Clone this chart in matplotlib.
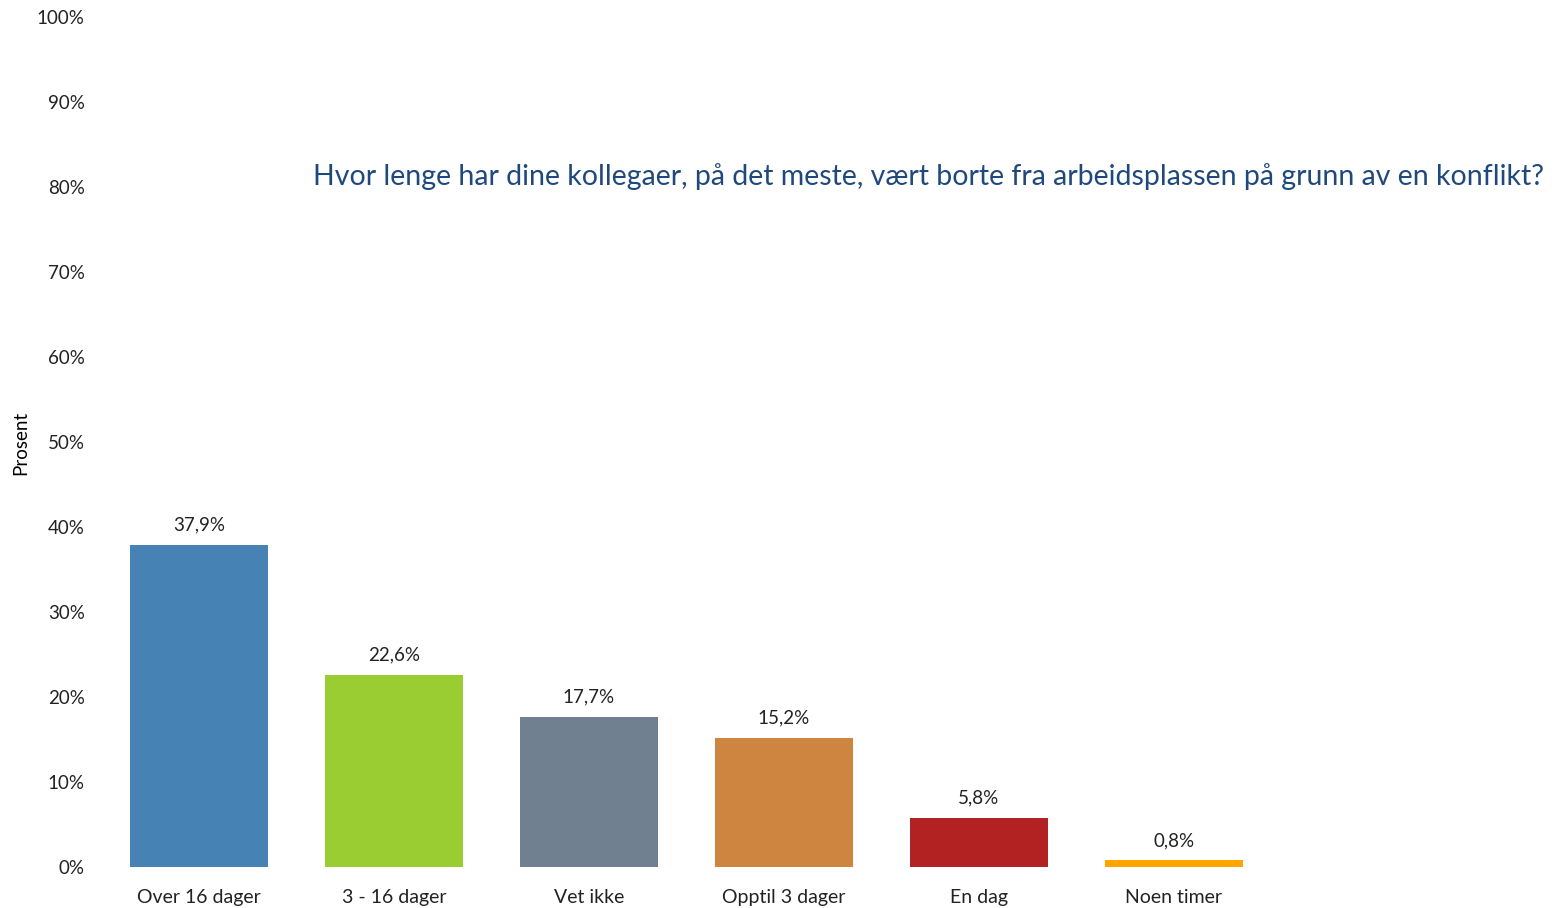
import matplotlib
matplotlib.use("Agg")
import matplotlib.pyplot as plt
from matplotlib.ticker import FuncFormatter

categories = ["Over 16 dager", "3 - 16 dager", "Vet ikke", "Opptil 3 dager", "En dag", "Noen timer"]
values = [37.9, 22.6, 17.7, 15.2, 5.8, 0.8]
value_labels = ["37,9%", "22,6%", "17,7%", "15,2%", "5,8%", "0,8%"]
colors = ["#4682B4", "#9ACD32", "#708090", "#CD853F", "#B22222", "#FFA500"]
title = "Hvor lenge har dine kollegaer, på det meste, vært borte fra arbeidsplassen på grunn av en konflikt?"

plt.rcParams['font.family'] = ['Lato', 'DejaVu Sans']

fig = plt.figure(figsize=(15.58, 9.08), dpi=100)
ax = fig.add_axes([0.0651, 0.0452, 0.7510, 0.9361])

x = list(range(len(categories)))
ax.bar(x, values, width=0.71, color=colors)
for xi, v, lab in zip(x, values, value_labels):
    ax.annotate(lab, (xi, v), xytext=(0, 8), textcoords="offset points",
                ha="center", va="bottom", fontsize=13.5, color="#222222")

ax.set_xlim(-0.5, len(categories) - 0.5)
ax.set_ylim(0, 100)
ax.set_yticks(range(0, 101, 10))
ax.yaxis.set_major_formatter(FuncFormatter(lambda v, p: f"{int(v)}%"))
ax.set_xticks(x)
ax.set_xticklabels(categories)
ax.tick_params(axis="y", length=0, pad=12, labelsize=13.5, labelcolor="#222222")
ax.tick_params(axis="x", length=0, pad=16, labelsize=14, labelcolor="#222222")
for s in ax.spines.values():
    s.set_visible(False)

fig.text(0.013, 0.512, "Prosent", rotation=90, ha="center", va="center", fontsize=13.5)
t = fig.text(0.2009, 0.806, title, ha="left", va="center", fontsize=27, color="#1F497D")

# shrink the title so it spans the same width as in the original (~1232 px)
fig.canvas.draw()
w = t.get_window_extent().width
t.set_fontsize(27 * 1232 / w)

fig.savefig("out.png", dpi=100)
